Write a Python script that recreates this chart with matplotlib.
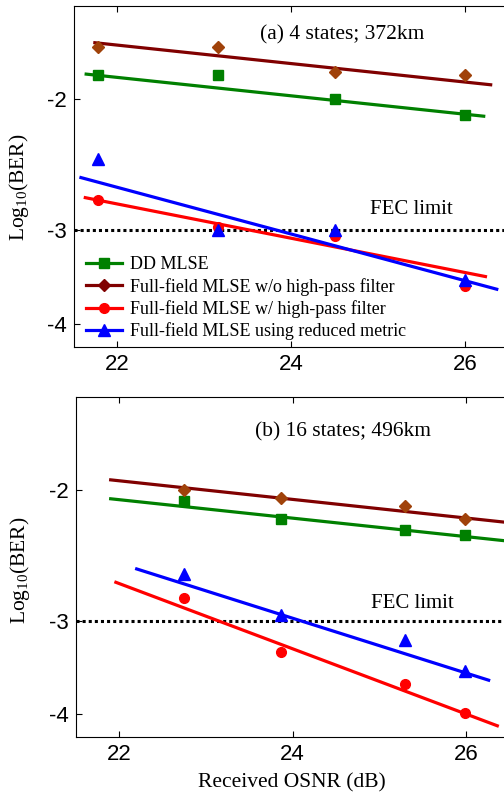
# BER vs OSNR, two panels (4 and 16 states)

import numpy as np
import matplotlib
matplotlib.use('Agg')
import matplotlib.pyplot as plt

plt.rcParams['font.family'] = ['Liberation Serif', 'DejaVu Serif']
plt.rcParams['mathtext.fontset'] = 'custom'
plt.rcParams['mathtext.rm'] = 'Liberation Serif'
plt.rcParams['mathtext.it'] = 'Liberation Serif:italic'

labels = ['DD MLSE',
          'Full-field MLSE w/o high-pass filter',
          'Full-field MLSE w/ high-pass filter',
          'Full-field MLSE using reduced metric']

# (a) 4 states; 372km
osnr_a = [21.78, 23.15, 24.5, 26.0]
dd_a = [-1.857, -1.858, -2.002, -2.101]
noh_a = [-1.701, -1.700, -1.841, -1.857]
hp_a = [-2.728, -2.969, -3.049, -3.565]
red_a = [-2.408, -2.993, -3.0, -3.494]

# fitted lines (end points) panel a
fitx_dd_a, fity_dd_a = [21.64, 26.21], [-1.851, -2.108]
fitx_noh_a, fity_noh_a = [21.74, 26.29], [-1.680, -1.913]
fitx_hp_a, fity_hp_a = [21.63, 26.23], [-2.711, -3.459]
fitx_red_a, fity_red_a = [21.58, 26.36], [-2.548, -3.597]

# (b) 16 states; 496km
osnr_b = [22.75, 23.87, 25.30, 25.99]
dd_b = [-2.067, -2.189, -2.263, -2.298]
noh_b = [-2.0, -2.051, -2.105, -2.189]
hp_b = [-2.797, -3.307, -3.648, -3.994]
red_b = [-2.593, -2.951, -3.184, -3.508]

fitx_dd_b, fity_dd_b = [21.90, 26.5], [-2.056, -2.345]
fitx_noh_b, fity_noh_b = [21.90, 26.5], [-1.939, -2.214]
fitx_hp_b, fity_hp_b = [21.96, 26.36], [-2.663, -4.153]
fitx_red_b, fity_red_b = [22.20, 26.26], [-2.555, -3.606]

fec = -3.0

line_cols = ['#008000', '#800000', '#ff0000', '#0000ff']
mark_cols = ['#008000', '#a0420a', '#ff0000', '#0000ff']
markers = ['s', 'D', 'o', '^']
msizes = [6.5, 6.5, 7, 8]


def fwd(y):
    return -np.log10(np.clip(-np.asarray(y, dtype=float), 1e-6, None))


def inv(u):
    return -10.0 ** (-np.asarray(u, dtype=float))


def panel(ax, x, ys, fits, title, title_y, fec_y, lab_xy):
    for i in range(4):
        fx, fy = fits[i]
        ax.plot(fx, fy, color=line_cols[i], lw=2.3, zorder=2)
        ax.plot(x, ys[i], linestyle='none', marker=markers[i], ms=msizes[i],
                color=mark_cols[i], zorder=3)
    ax.axhline(fec, color='black', ls=(0, (1, 1)), lw=2.2, zorder=1)
    ax.text(25.38, fec_y, 'FEC limit', fontsize=15, ha='center', va='center')
    ax.text(24.58, title_y, title, fontsize=15.5, ha='center', va='center')
    ax.set_yscale('function', functions=(fwd, inv))
    ax.set_xlim(21.5, 26.5)
    ax.set_ylim(-4.3, -1.5)
    ax.set_xticks([22, 24, 26])
    ax.set_yticks([-2, -3, -4])
    ax.set_yticklabels(['-2', '-3', '-4'])
    ax.minorticks_off()
    ax.tick_params(direction='in', top=True, right=False, length=4, width=0.8,
                   labelsize=16, pad=5)
    for t in ax.get_xticklabels() + ax.get_yticklabels():
        t.set_fontfamily('Liberation Sans')
    ax.set_ylabel('Log$_{10}$(BER)', fontsize=15.5)
    ax.yaxis.set_label_coords(*lab_xy)


fig = plt.figure(figsize=(5.04, 7.93), dpi=100)
ax1 = fig.add_axes([0.1468, 0.5624, 0.863, 0.430])
ax2 = fig.add_axes([0.1508, 0.0706, 0.860, 0.4288])

panel(ax1, osnr_a, [dd_a, noh_a, hp_a, red_a],
      [(fitx_dd_a, fity_dd_a), (fitx_noh_a, fity_noh_a),
       (fitx_hp_a, fity_hp_a), (fitx_red_a, fity_red_a)],
      '(a) 4 states; 372km', -1.64, -2.81, (-0.098, 0.47))
panel(ax2, osnr_b, [dd_b, noh_b, hp_b, red_b],
      [(fitx_dd_b, fity_dd_b), (fitx_noh_b, fity_noh_b),
       (fitx_hp_b, fity_hp_b), (fitx_red_b, fity_red_b)],
      '(b) 16 states; 496km', -1.671, -2.846, (-0.102, 0.49))

# legend in panel a
handles = [plt.Line2D([], [], color=line_cols[i], lw=2.3, marker=markers[i],
                      ms=msizes[i], markerfacecolor=line_cols[i],
                      markeredgecolor=line_cols[i]) for i in range(4)]
ax1.legend(handles, labels, loc='lower left', bbox_to_anchor=(0.01, -0.002),
           frameon=False, fontsize=13.0, handlelength=2.0, handletextpad=0.45,
           labelspacing=0.25, borderaxespad=0.0)

ax2.set_xlabel('Received OSNR (dB)', fontsize=15.5)
ax2.xaxis.set_label_coords(0.498, -0.106)

fig.savefig('out.png', dpi=100)
